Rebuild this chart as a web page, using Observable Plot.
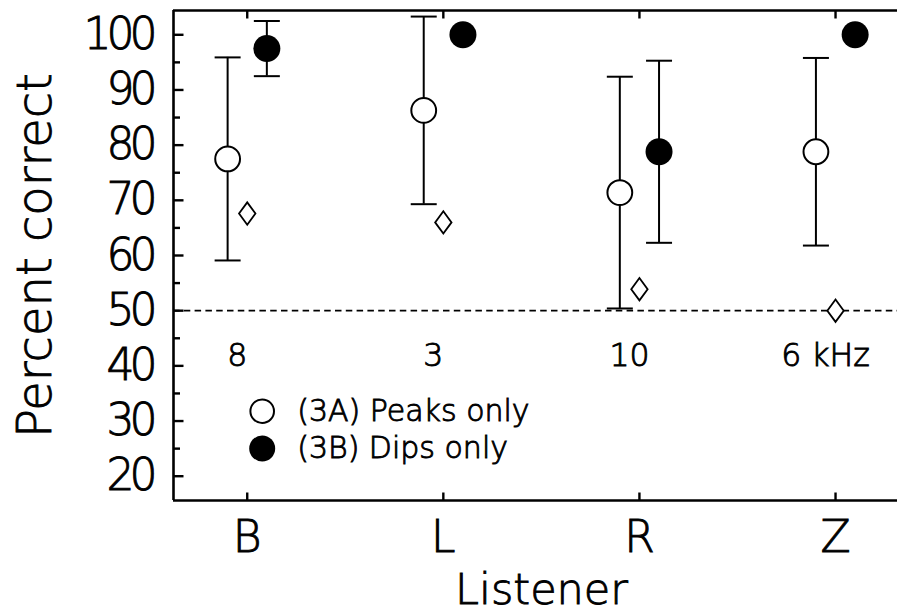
<!DOCTYPE html>
<html>
<head>
<meta charset="utf-8">
<script src="https://cdn.jsdelivr.net/npm/d3@7"></script>
<script src="https://cdn.jsdelivr.net/npm/@observablehq/plot@0.6"></script>
<style>
  html, body { margin: 0; padding: 0; background: #fff; }
  #chart svg { display: block; }
  /* light face with a thin outline for an even, plotter-like stroke */
  #chart svg text { stroke: #000; stroke-width: 0.9px; }
  #chart g[aria-label="y-axis tick label"] text { letter-spacing: -5px; }
</style>
</head>
<body>
<div id="chart"></div>
<script>
// Listeners on the x axis, with the centre frequency noted for each
const listeners = ["B", "L", "R", "Z"];
const freqLabels = ["8", "3", "10", "6 kHz"];

// (3A) Peaks only: mean percent correct and standard deviation
const peaksMean = [77.5, 86.3, 71.4, 78.8];
const peaksSD   = [18.4, 17.0, 21.0, 17.0];

// (3B) Dips only: mean percent correct and standard deviation (0 = no bar)
const dipsMean = [97.5, 100, 78.8, 100];
const dipsSD   = [5.0, 0, 16.5, 0];

// Open diamonds drawn at each listener
const diamondValues = [67.6, 66.0, 53.9, 50.0];

// Axis ticks
const yMajor = [20, 30, 40, 50, 60, 70, 80, 90, 100];
const yMinor = [25, 35, 45, 55, 65, 75, 85, 95];
const chance = 50;
const freqRowY = 40;

const xDomain = [0.624, 4.316];
const yDomain = [15.6, 104.4];
const offset = 0.1;

const rows = listeners.map((name, k) => ({
  i: k + 1,
  name,
  freq: freqLabels[k],
  pm: peaksMean[k], ps: peaksSD[k],
  dm: dipsMean[k], ds: dipsSD[k],
  dv: diamondValues[k]
}));
const peakBars = rows;
const dipBars = rows.filter(d => d.ds > 0);

// Custom path symbols (fixed pixel sizes)
const seg = (x1, y1, x2, y2) => ({draw(ctx) { ctx.moveTo(x1, y1); ctx.lineTo(x2, y2); }});
const tickRight = seg(0, 0, 10, 0);
const tickRightMinor = seg(0, 0, 6.5, 0);
const tickUp = seg(0, 0, 0, -8);
const tickDown = seg(0, 0, 0, 8);
const cap = seg(-13, 0, 13, 0);
const diamond = {draw(ctx) {
  ctx.moveTo(0, -11.2); ctx.lineTo(8.2, 0); ctx.lineTo(0, 11.2); ctx.lineTo(-8.2, 0); ctx.closePath();
}};

const font = "'DejaVu Sans', 'Liberation Sans', sans-serif";
const weight = 200;

const chart = Plot.plot({
  width: 897,
  height: 614,
  marginLeft: 173,
  marginRight: 0,
  marginTop: 10,
  marginBottom: 114,
  x: {domain: xDomain},
  y: {domain: yDomain},
  style: {fontFamily: font, color: "#000", background: "#fff"},
  marks: [
    // chance level
    Plot.ruleY([chance], {stroke: "#000", strokeWidth: 1.8, strokeDasharray: "6.5,4.3"}),

    // open frame: left, bottom and top edges
    Plot.ruleY(yDomain, {stroke: "#000", strokeWidth: 2.6}),
    Plot.ruleX([xDomain[0]], {stroke: "#000", strokeWidth: 2.6}),

    // inward ticks
    Plot.dot(yMajor, {x: () => xDomain[0], y: d => d, symbol: tickRight, stroke: "#000", strokeWidth: 2.4, fill: "none"}),
    Plot.dot(yMinor, {x: () => xDomain[0], y: d => d, symbol: tickRightMinor, stroke: "#000", strokeWidth: 2.4, fill: "none"}),
    Plot.dot(rows, {x: "i", y: () => yDomain[0], symbol: tickUp, stroke: "#000", strokeWidth: 2.4, fill: "none"}),
    Plot.dot(rows, {x: "i", y: () => yDomain[1], symbol: tickDown, stroke: "#000", strokeWidth: 2.4, fill: "none"}),

    // tick labels
    Plot.axisY({ticks: yMajor, tickSize: 0, tickPadding: 21, fontSize: 44, fontWeight: weight, label: null}),
    Plot.axisX({ticks: [1, 2, 3, 4], tickFormat: v => listeners[v - 1], tickSize: 0, tickPadding: 20, fontSize: 44, fontWeight: weight, label: null}),

    // axis titles
    Plot.text(["Listener"], {frameAnchor: "bottom", dx: 6, dy: 103, lineAnchor: "bottom", fontSize: 43, fontWeight: weight}),
    Plot.text(["Percent correct"], {frameAnchor: "left", rotate: -90, dx: -123, textAnchor: "middle", lineAnchor: "bottom", fontSize: 48, fontWeight: weight}),

    // frequency of each listener
    Plot.text(rows, {x: "i", y: () => freqRowY, text: "freq", dx: -10, lineAnchor: "bottom", fontSize: 31.5, fontWeight: weight}),

    // error bars
    Plot.ruleX(peakBars, {x: d => d.i - offset, y1: d => d.pm - d.ps, y2: d => d.pm + d.ps, stroke: "#000", strokeWidth: 2}),
    Plot.dot(peakBars, {x: d => d.i - offset, y: d => d.pm - d.ps, symbol: cap, stroke: "#000", strokeWidth: 2, fill: "none"}),
    Plot.dot(peakBars, {x: d => d.i - offset, y: d => d.pm + d.ps, symbol: cap, stroke: "#000", strokeWidth: 2, fill: "none"}),
    Plot.ruleX(dipBars, {x: d => d.i + offset, y1: d => d.dm - d.ds, y2: d => d.dm + d.ds, stroke: "#000", strokeWidth: 2}),
    Plot.dot(dipBars, {x: d => d.i + offset, y: d => d.dm - d.ds, symbol: cap, stroke: "#000", strokeWidth: 2, fill: "none"}),
    Plot.dot(dipBars, {x: d => d.i + offset, y: d => d.dm + d.ds, symbol: cap, stroke: "#000", strokeWidth: 2, fill: "none"}),

    // means
    Plot.dot(rows, {x: d => d.i - offset, y: "pm", r: 12.4, fill: "#fff", stroke: "#000", strokeWidth: 2}),
    Plot.dot(rows, {x: d => d.i + offset, y: "dm", r: 13.5, fill: "#000", stroke: "none"}),
    Plot.dot(rows, {x: "i", y: "dv", symbol: diamond, fill: "#fff", stroke: "#000", strokeWidth: 1.8}),

    // key
    Plot.dot([0], {frameAnchor: "bottom-left", dx: 88.7, dy: -89.3, r: 11.8, fill: "#fff", stroke: "#000", strokeWidth: 2}),
    Plot.dot([0], {frameAnchor: "bottom-left", dx: 88.7, dy: -52, r: 13, fill: "#000", stroke: "none"}),
    Plot.text(["(3A) Peaks only"], {frameAnchor: "bottom-left", dx: 123.7, dy: -89.3, textAnchor: "start", lineAnchor: "middle", fontSize: 30, fontWeight: weight}),
    Plot.text(["(3B) Dips only"], {frameAnchor: "bottom-left", dx: 123.7, dy: -52, textAnchor: "start", lineAnchor: "middle", fontSize: 30, fontWeight: weight})
  ]
});

document.getElementById("chart").appendChild(chart);
</script>
</body>
</html>
